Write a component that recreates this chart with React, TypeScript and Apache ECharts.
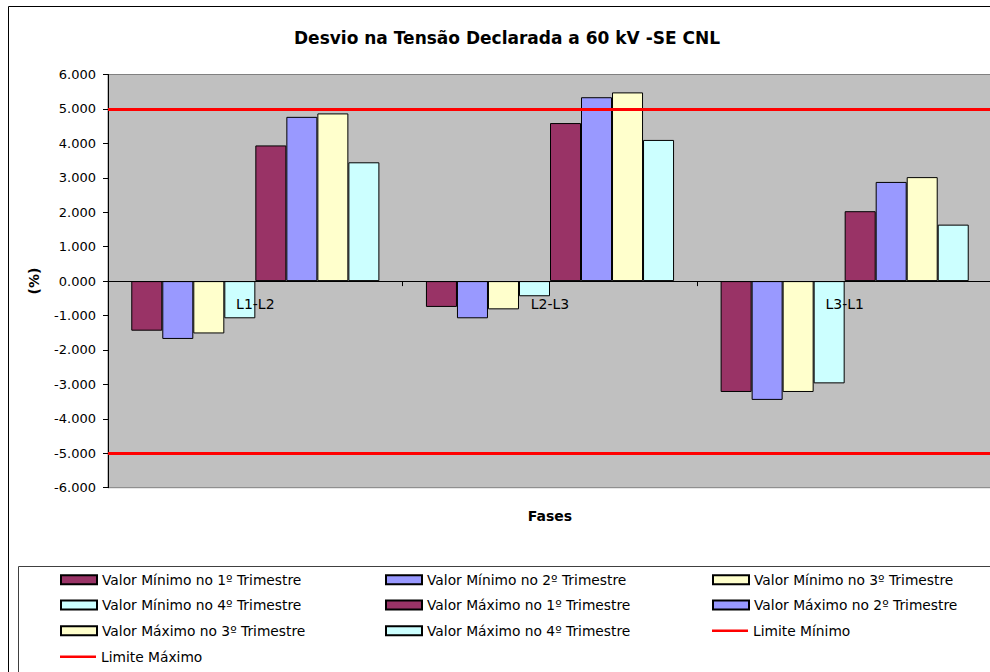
import React, { useEffect, useRef } from 'react';
import * as echarts from 'echarts';

const categories = ['L1-L2', 'L2-L3', 'L3-L1'];
const minT1 = [-1.44, -0.75, -3.22];
const minT2 = [-1.68, -1.08, -3.45];
const minT3 = [-1.52, -0.82, -3.22];
const minT4 = [-1.08, -0.44, -2.97];
const maxT1 = [3.94, 4.59, 2.03];
const maxT2 = [4.77, 5.34, 2.88];
const maxT3 = [4.87, 5.48, 3.02];
const maxT4 = [3.45, 4.1, 1.64];
const limiteMinimo = -5;
const limiteMaximo = 5;
const yTicks = { min: -6, max: 6, interval: 1 };

const barNames = [
  'Valor Mínimo no 1º Trimestre',
  'Valor Mínimo no 2º Trimestre',
  'Valor Mínimo no 3º Trimestre',
  'Valor Mínimo no 4º Trimestre',
  'Valor Máximo no 1º Trimestre',
  'Valor Máximo no 2º Trimestre',
  'Valor Máximo no 3º Trimestre',
  'Valor Máximo no 4º Trimestre',
];
const barValues = [minT1, minT2, minT3, minT4, maxT1, maxT2, maxT3, maxT4];
const barColors = ['#993366', '#9999FF', '#FFFFCC', '#CCFFFF', '#993366', '#9999FF', '#FFFFCC', '#CCFFFF'];
const lineNames = ['Limite Mínimo', 'Limite Máximo'];
const lineValues = [limiteMinimo, limiteMaximo];

const FONT = 'DejaVu Sans';
const LINE_ICON = 'path://M0,0 M36,9 M0,3.25 L36,3.25 L36,5.75 L0,5.75 Z';

const GRID_TOP = 74.5;
const GRID_HEIGHT = 413.2;

export default function App() {
  const ref = useRef<HTMLDivElement>(null);
  useEffect(() => {
    const chart = echarts.init(ref.current!, null, { renderer: 'svg' });
    const legendNames = [...barNames, ...lineNames];
    const colX = [60, 385, 712];
    const rowY = [580.7, 606, 631.7, 657.7];
    const legends = legendNames.map((name, i) => {
      const isBar = i < barNames.length;
      const l: any = {
        data: [{ name, icon: isBar ? 'rect' : LINE_ICON }],
        left: colX[i % 3],
        top: rowY[Math.floor(i / 3)] - 8,
        padding: 0,
        itemWidth: 36,
        itemHeight: 9,
        itemGap: 0,
        textStyle: { fontFamily: FONT, fontSize: 13.8, color: '#000' },
        selectedMode: false,
      };
      if (!isBar) l.itemStyle = { color: '#FF0000', borderWidth: 0 };
      return l;
    });
    // x axis sits at value 0: move it up from the grid bottom to the zero line
    const zeroOffset =
      -GRID_HEIGHT * ((0 - yTicks.min) / (yTicks.max - yTicks.min));
    const option: any = {
      animation: false,
      backgroundColor: '#fff',
      textStyle: { fontFamily: FONT },
      title: {
        text: 'Desvio na Tensão Declarada a 60 kV -SE CNL',
        left: 289,
        top: 24,
        textStyle: { fontFamily: FONT, fontSize: 17, fontWeight: 'bold', color: '#000' },
      },
      legend: legends,
      grid: {
        left: 108,
        top: GRID_TOP,
        width: 884,
        height: GRID_HEIGHT,
        show: true,
        backgroundColor: '#C0C0C0',
        borderColor: '#808080',
        borderWidth: 1,
        containLabel: false,
        outerBoundsMode: 'none',
      },
      xAxis: {
        type: 'category',
        data: categories,
        position: 'bottom',
        offset: zeroOffset,
        z: 10,
        name: 'Fases',
        nameLocation: 'middle',
        nameGap: 228,
        nameTextStyle: { fontFamily: FONT, fontSize: 14, fontWeight: 'bold', color: '#000' },
        axisLine: { onZero: false, lineStyle: { color: '#000', width: 1 } },
        axisTick: { show: true, length: 5, lineStyle: { color: '#000' } },
        axisLabel: { fontFamily: FONT, fontSize: 14, color: '#000', margin: 16 },
        splitLine: { show: false },
      },
      yAxis: {
        type: 'value',
        min: yTicks.min,
        max: yTicks.max,
        interval: yTicks.interval,
        name: '(%)',
        nameLocation: 'middle',
        nameGap: 67,
        nameRotate: 90,
        nameTextStyle: { fontFamily: FONT, fontSize: 14, fontWeight: 'bold', color: '#000' },
        axisLine: { show: true, lineStyle: { color: '#000', width: 1 } },
        axisTick: { show: true, length: 5, lineStyle: { color: '#000' } },
        axisLabel: {
          fontFamily: FONT,
          fontSize: 13,
          color: '#000',
          margin: 12,
          formatter: (v: number) => v.toFixed(3),
        },
        splitLine: { show: false },
      },
      series: [
        ...barNames.map((name, i) => ({
          name,
          type: 'bar',
          data: barValues[i],
          barGap: '0%',
          barCategoryGap: '15.8%',
          itemStyle: { color: barColors[i], borderColor: '#000', borderWidth: 1 },
        })),
        ...lineNames.map((name, i) => ({
          name,
          type: 'line',
          data: [],
          symbol: 'none',
          itemStyle: { color: '#FF0000' },
          lineStyle: { color: '#FF0000', width: 3 },
          markLine: {
            silent: true,
            symbol: ['none', 'none'],
            label: { show: false },
            lineStyle: { color: '#FF0000', width: 3, type: 'solid' },
            data: [{ yAxis: lineValues[i] }],
          },
        })),
      ],
      graphic: [
        {
          type: 'rect',
          shape: { x: 8.5, y: 6.5, width: 1100, height: 800 },
          style: { fill: 'none', stroke: '#000', lineWidth: 1 },
          silent: true,
          z: -1,
        },
        {
          type: 'rect',
          shape: { x: 18.5, y: 566.5, width: 1100, height: 300 },
          style: { fill: 'none', stroke: '#404040', lineWidth: 1 },
          silent: true,
          z: -1,
        },
      ],
    };
    chart.setOption(option);
    return () => chart.dispose();
  }, []);
  return (
    <div
      ref={ref}
      style={{ position: 'absolute', left: 0, top: 0, width: 990, height: 672, background: '#fff' }}
    />
  );
}
